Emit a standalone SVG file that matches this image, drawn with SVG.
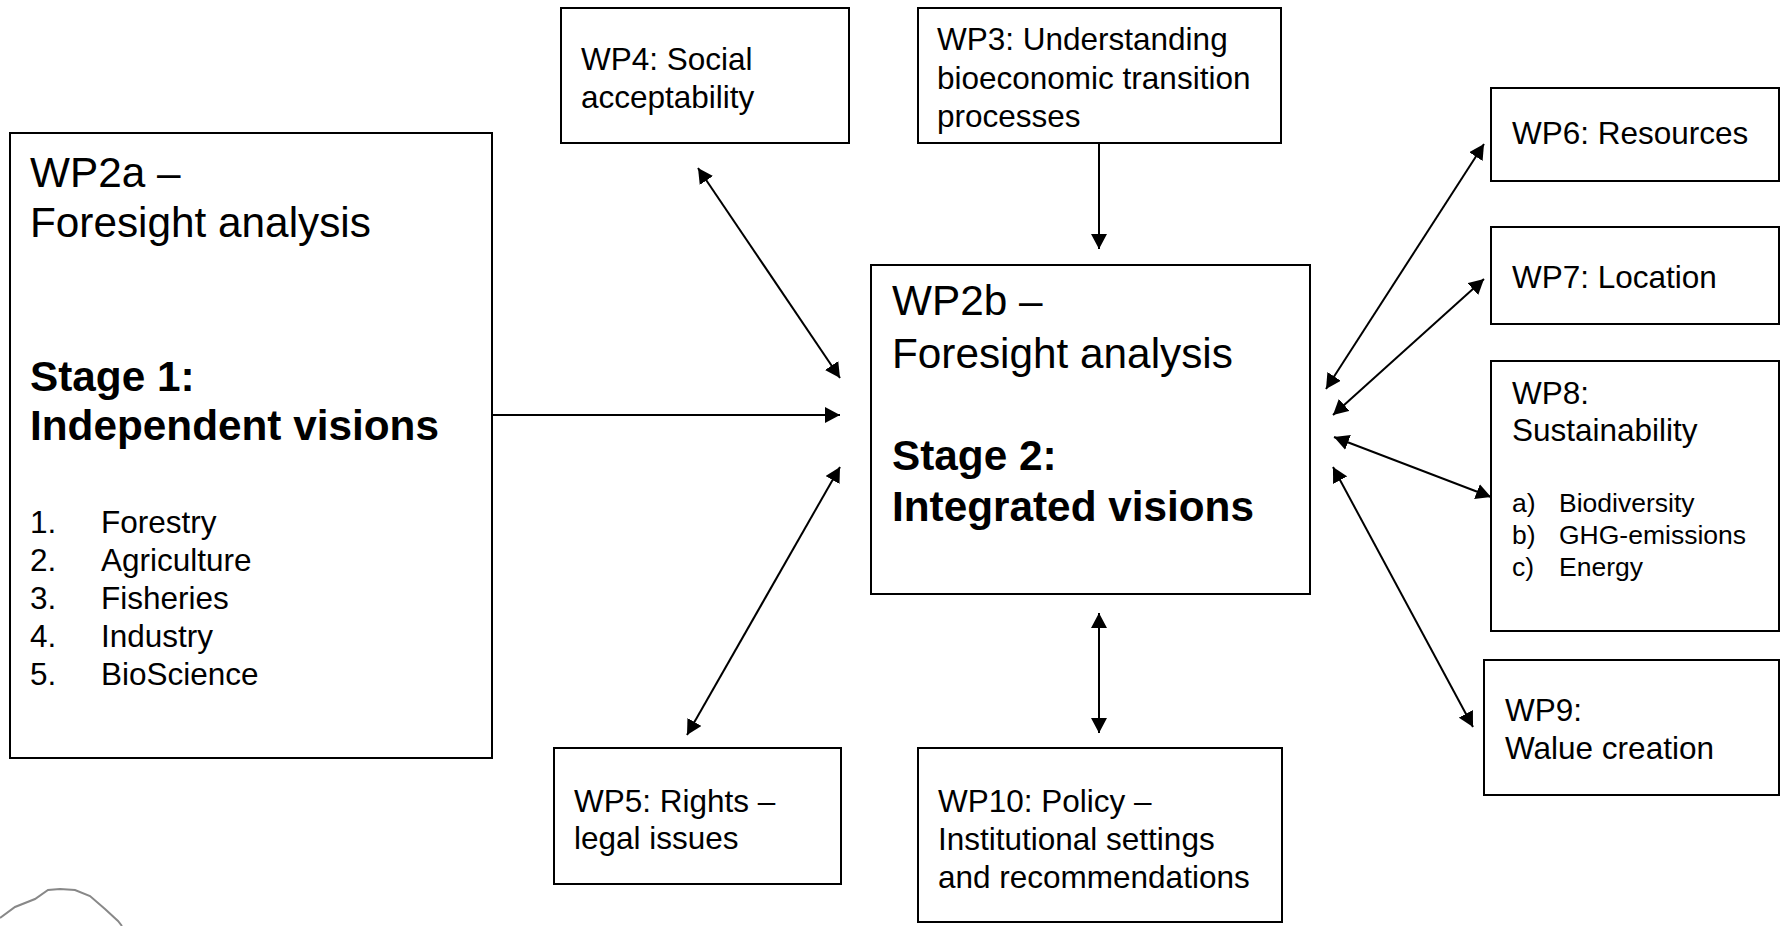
<svg xmlns="http://www.w3.org/2000/svg" width="1785" height="926" viewBox="0 0 1785 926">
<style>
.box{fill:#fff;stroke:#000;stroke-width:2}
.t{font-family:"Liberation Sans",Arial,sans-serif;fill:#000}
.big{font-size:42.3px}
.bold{font-size:42.3px;font-weight:bold}
.med{font-size:31.5px}
.sm{font-size:26.5px}
.c{stroke:#000;stroke-width:2;fill:none}
</style>
<defs>
<marker id="ah" markerUnits="userSpaceOnUse" markerWidth="16" markerHeight="16" refX="15" refY="8" orient="auto-start-reverse" viewBox="0 0 16 16">
<path d="M0,0 L15,8 L0,16 z" fill="#000"/>
</marker>
</defs>
<rect width="1785" height="926" fill="#fff"/>

<g id="wp2a">
<rect class="box" x="10" y="133" width="482" height="625"/>
<text class="t big" x="30" y="187">WP2a –</text>
<text class="t big" x="30" y="237">Foresight analysis</text>
<text class="t bold" x="30" y="391">Stage 1:</text>
<text class="t bold" x="30" y="440">Independent visions</text>
<g class="t med">
<text x="30" y="533">1.</text><text x="101" y="533">Forestry</text>
<text x="30" y="571">2.</text><text x="101" y="571">Agriculture</text>
<text x="30" y="609">3.</text><text x="101" y="609">Fisheries</text>
<text x="30" y="647">4.</text><text x="101" y="647">Industry</text>
<text x="30" y="685">5.</text><text x="101" y="685">BioScience</text>
</g>
</g>

<g id="wp4">
<rect class="box" x="561" y="8" width="288" height="135"/>
<text class="t med" x="581" y="70">WP4: Social</text>
<text class="t med" x="581" y="108">acceptability</text>
</g>

<g id="wp3">
<rect class="box" x="918" y="8" width="363" height="135"/>
<text class="t med" x="937" y="50">WP3: Understanding</text>
<text class="t med" x="937" y="89">bioeconomic transition</text>
<text class="t med" x="937" y="127">processes</text>
</g>

<g id="wp2b">
<rect class="box" x="871" y="265" width="439" height="329"/>
<text class="t big" x="892" y="315">WP2b –</text>
<text class="t big" x="892" y="368">Foresight analysis</text>
<text class="t bold" x="892" y="470">Stage 2:</text>
<text class="t bold" x="892" y="521">Integrated visions</text>
</g>

<g id="wp6">
<rect class="box" x="1491" y="88" width="288" height="93"/>
<text class="t med" x="1512" y="144">WP6: Resources</text>
</g>

<g id="wp7">
<rect class="box" x="1491" y="227" width="288" height="97"/>
<text class="t med" x="1512" y="288">WP7: Location</text>
</g>

<g id="wp8">
<rect class="box" x="1491" y="361" width="288" height="270"/>
<text class="t med" x="1512" y="404">WP8:</text>
<text class="t med" x="1512" y="441">Sustainability</text>
<g class="t sm">
<text x="1512" y="512">a)</text><text x="1559" y="512">Biodiversity</text>
<text x="1512" y="544">b)</text><text x="1559" y="544">GHG-emissions</text>
<text x="1512" y="576">c)</text><text x="1559" y="576">Energy</text>
</g>
</g>

<g id="wp9">
<rect class="box" x="1484" y="660" width="295" height="135"/>
<text class="t med" x="1505" y="721">WP9:</text>
<text class="t med" x="1505" y="759">Walue creation</text>
</g>

<g id="wp5">
<rect class="box" x="554" y="748" width="287" height="136"/>
<text class="t med" x="574" y="812">WP5: Rights –</text>
<text class="t med" x="574" y="849">legal issues</text>
</g>

<g id="wp10">
<rect class="box" x="918" y="748" width="364" height="174"/>
<text class="t med" x="938" y="812">WP10: Policy –</text>
<text class="t med" x="938" y="850">Institutional settings</text>
<text class="t med" x="938" y="888">and recommendations</text>
</g>

<g id="connectors">
<line class="c" x1="1099" y1="144" x2="1099" y2="249" marker-end="url(#ah)"/>
<line class="c" x1="493" y1="415" x2="840" y2="415" marker-end="url(#ah)"/>
<line class="c" x1="698" y1="168" x2="840" y2="378" marker-start="url(#ah)" marker-end="url(#ah)"/>
<line class="c" x1="840" y1="467" x2="687" y2="735" marker-start="url(#ah)" marker-end="url(#ah)"/>
<line class="c" x1="1099" y1="613" x2="1099" y2="733" marker-start="url(#ah)" marker-end="url(#ah)"/>
<line class="c" x1="1484" y1="144" x2="1326" y2="389" marker-start="url(#ah)" marker-end="url(#ah)"/>
<line class="c" x1="1484" y1="279" x2="1333" y2="415" marker-start="url(#ah)" marker-end="url(#ah)"/>
<line class="c" x1="1334" y1="437" x2="1491" y2="497" marker-start="url(#ah)" marker-end="url(#ah)"/>
<line class="c" x1="1333" y1="467" x2="1473" y2="727" marker-start="url(#ah)" marker-end="url(#ah)"/>
</g>

<path d="M0,918 L15,907 L35,899 L48,890 L60,889 L75,890 L90,896 L105,909 L118,921 L122,926" fill="none" stroke="#888" stroke-width="2"/>
</svg>
